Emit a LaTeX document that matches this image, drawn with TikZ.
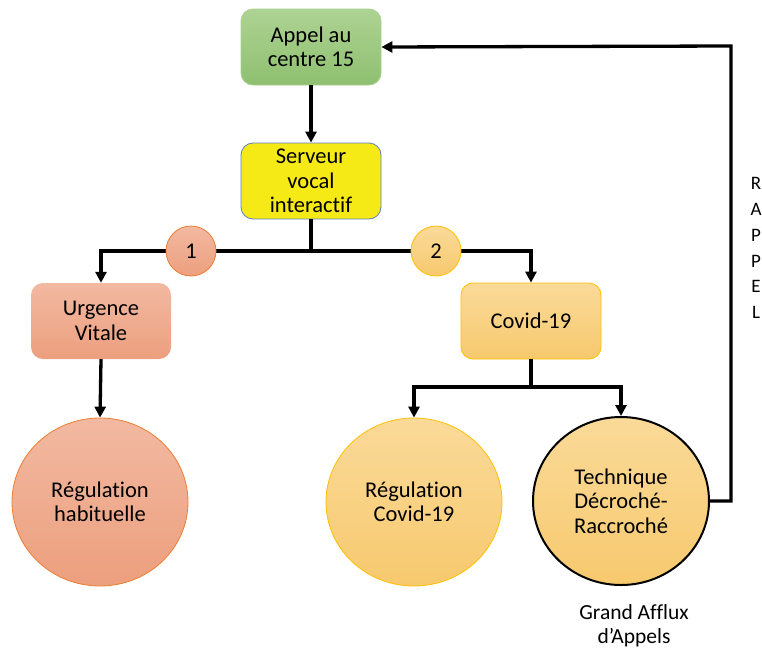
\documentclass[tikz,border=0pt]{standalone}
\usepackage{fontspec}
\setmainfont{Carlito}[Ligatures=NoCommon]
\usetikzlibrary{arrows.meta,shapes.geometric}
\definecolor{gfill1}{HTML}{AED393}
\definecolor{gfill2}{HTML}{8EC070}
\definecolor{gline}{HTML}{A6D18C}
\definecolor{yfill}{HTML}{F6EA16}
\definecolor{yline}{HTML}{5B7FC4}
\definecolor{sal1}{HTML}{F2B9A1}
\definecolor{sal2}{HTML}{EC9F7E}
\definecolor{orline}{HTML}{ED7D31}
\definecolor{gold1}{HTML}{FADA99}
\definecolor{gold2}{HTML}{F7C96E}
\definecolor{goldline}{HTML}{FFC000}
\tikzset{
  box/.style={rectangle, rounded corners=12pt, minimum width=140pt, minimum height=76pt, inner sep=0pt, align=center, font=\fontsize{22.5}{24.5}\selectfont},
  bigc/.style={ellipse, minimum width=176pt, minimum height=168pt, inner sep=0pt, align=center, font=\fontsize{22.5}{24.5}\selectfont},
  smallc/.style={circle, minimum size=50pt, inner sep=0pt, font=\fontsize{22.5}{24}\selectfont},
  conn/.style={line width=3.3pt, black},
  arr/.style={conn, -{Triangle[width=11pt,length=11pt]}},
  plain/.style={align=center, inner sep=0pt}
}
\begin{document}
\begin{tikzpicture}[x=1pt,y=-1pt]
\useasboundingbox (0,0) rectangle (762,651);
% boxes
\node[box, top color=gfill1, bottom color=gfill2, draw=gline, line width=0.8pt] (appel) at (311,47) {Appel au\\centre 15};
\node[box, fill=yfill, draw=yline, line width=0.8pt] (serveur) at (311,181) {Serveur\\vocal\\interactif};
\node[box, top color=sal1, bottom color=sal2] (urgence) at (101,321) {Urgence\\Vitale};
\node[box, top color=gold1, bottom color=gold2, draw=goldline, line width=0.8pt] (covid) at (531,321) {Covid-19};
% big circles
\node[bigc, top color=sal1, bottom color=sal2, draw=orline, line width=0.8pt] (habit) at (100,502) {Régulation\\habituelle};
\node[bigc, top color=gold1, bottom color=gold2, draw=goldline, line width=0.8pt] (regcov) at (414,502) {Régulation\\Covid-19};
\node[bigc, top color=gold1, bottom color=gold2, draw=black, line width=2pt] (tech) at (621,501) {Technique\\Décroché-\\Raccroché};
% connectors
\coordinate (split) at (311,251);
\coordinate (cs) at (531,387);
\coordinate (fb) at (731,46);
\draw[arr] (appel.south) -- (serveur.north);
\draw[conn] (serveur.south) -- (split);
\draw[arr] (split) -| (urgence.north);
\draw[arr] (split) -| (covid.north);
\draw[arr] (urgence.south) -- (habit.north);
\draw[conn] (covid.south) -- (cs);
\draw[arr] (cs) -| (regcov.north);
\draw[arr] (cs) -| (tech.north);
\draw[arr] (tech.east) -| (fb) -- (appel.east);
% small circles on the branch line
\node[smallc, top color=sal1, bottom color=sal2, draw=orline, line width=0.8pt] (c1) at (191,251) {1};
\node[smallc, top color=gold1, bottom color=gold2, draw=goldline, line width=0.8pt] (c2) at (436,251) {2};
% labels
\node[plain, font=\fontsize{19}{25.8}\selectfont] (rappel) at (756,248) {R\\A\\P\\P\\E\\L};
\node[plain, font=\fontsize{21.5}{24}\selectfont] (afflux) at (634,626) {Grand Afflux\\d’Appels};
\end{tikzpicture}
\end{document}
